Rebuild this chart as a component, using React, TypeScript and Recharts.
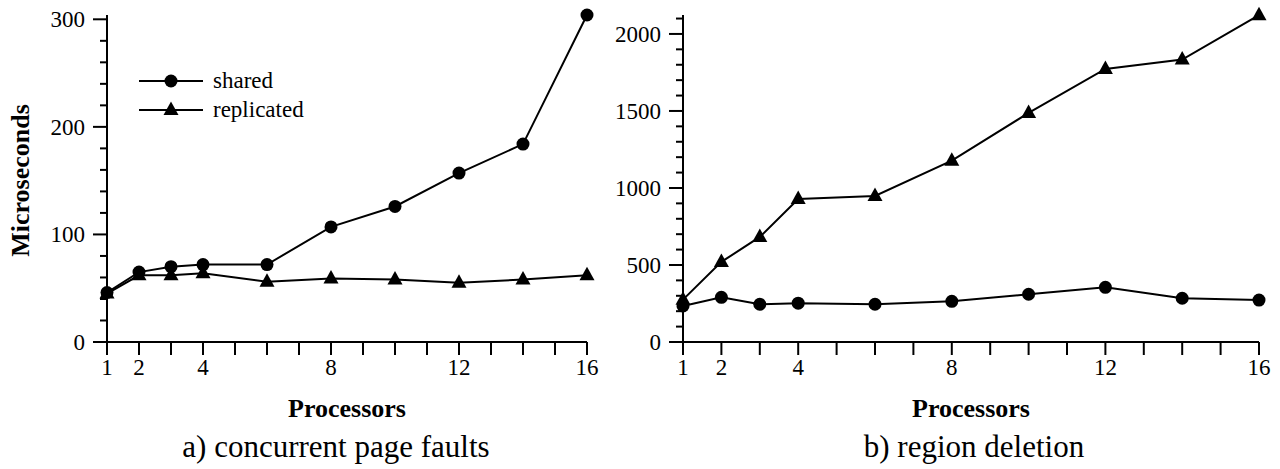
import React from 'react';
import { LineChart, Line, XAxis, YAxis, Legend } from 'recharts';

const FONT = "'Liberation Serif', 'Times New Roman', serif";

// processor counts measured
const processors = [1, 2, 3, 4, 6, 8, 10, 12, 14, 16];

// a) concurrent page faults (microseconds)
const faultShared = [46, 65, 70, 72, 72, 107, 126, 157, 184, 304];
const faultReplicated = [45, 62, 62, 64, 56, 59, 58, 55, 58, 62];

// b) region deletion (microseconds)
const deleteShared = [234, 290, 245, 252, 245, 264, 310, 355, 284, 272];
const deleteReplicated = [275, 520, 682, 928, 948, 1177, 1487, 1773, 1834, 2122];

const seriesOrder = ['shared', 'replicated'];

const xTicks = [1, 2, 3, 4, 5, 6, 7, 8, 9, 10, 11, 12, 13, 14, 15, 16];
const xLabels = [1, 2, 4, 8, 12, 16];

const faultTicks = [0, 20, 40, 60, 80, 100, 120, 140, 160, 180, 200, 220, 240, 260, 280, 300];
const faultLabels = [0, 100, 200, 300];

const deleteTicks = [
  0, 100, 200, 300, 400, 500, 600, 700, 800, 900, 1000,
  1100, 1200, 1300, 1400, 1500, 1600, 1700, 1800, 1900, 2000, 2100,
];
const deleteLabels = [0, 500, 1000, 1500, 2000];

const faultData = processors.map((p, i) => ({
  p,
  shared: faultShared[i],
  replicated: faultReplicated[i],
}));

const deleteData = processors.map((p, i) => ({
  p,
  shared: deleteShared[i],
  replicated: deleteReplicated[i],
}));

const CircleDot = (props: any) => {
  const { cx, cy, index } = props;
  return <circle key={`c-${index}`} cx={cx} cy={cy} r={6.5} fill="#000" />;
};

const TriangleDot = (props: any) => {
  const { cx, cy, index } = props;
  return (
    <path
      key={`t-${index}`}
      d={`M${cx},${cy - 8.5} L${cx - 7.5},${cy + 5} L${cx + 7.5},${cy + 5} Z`}
      fill="#000"
    />
  );
};

const makeYTick = (labels: number[]) => (props: any) => {
  const { x, y, payload } = props;
  const major = labels.includes(payload.value);
  return (
    <g>
      <line x1={x} x2={x - (major ? 14 : 7)} y1={y} y2={y} stroke="#000" strokeWidth={2} />
      {major && (
        <text x={x - 22} y={y} dy="0.35em" textAnchor="end" fontFamily={FONT} fontSize={23} fill="#000">
          {payload.value}
        </text>
      )}
    </g>
  );
};

const XTick = (props: any) => {
  const { x, y, payload } = props;
  const show = xLabels.includes(payload.value);
  return (
    <g>
      <line x1={x} x2={x} y1={y} y2={y + 13} stroke="#000" strokeWidth={2} />
      {show && (
        <text x={x} y={y + 33} textAnchor="middle" fontFamily={FONT} fontSize={23} fill="#000">
          {payload.value}
        </text>
      )}
    </g>
  );
};

const makeXLabel = (caption: string, shift: number) => (props: any) => {
  const { x, y, width } = props.viewBox;
  const cx = x + width / 2;
  return (
    <g fontFamily={FONT} fill="#000">
      <text x={cx} y={y + 75} textAnchor="middle" fontSize={26} fontWeight="bold">
        Processors
      </text>
      <text x={cx + shift} y={y + 115} textAnchor="middle" fontSize={31}>
        {caption}
      </text>
    </g>
  );
};

const YLabel = (props: any) => {
  const { x, y, height } = props.viewBox;
  const tx = x + 20;
  const ty = y + height / 2 + 2;
  return (
    <text
      x={tx}
      y={ty}
      dy="0.35em"
      textAnchor="middle"
      transform={`rotate(-90, ${tx}, ${ty})`}
      fontFamily={FONT}
      fontSize={26}
      fontWeight="bold"
      fill="#000"
    >
      Microseconds
    </text>
  );
};

const renderLegend = (props: any) => {
  const payload = [...(props.payload || [])].sort(
    (a: any, b: any) => seriesOrder.indexOf(a.dataKey) - seriesOrder.indexOf(b.dataKey),
  );
  return (
    <div style={{ fontFamily: FONT, fontSize: 23, color: '#000' }}>
      {payload.map((entry: any) => (
        <div key={entry.value} style={{ display: 'flex', alignItems: 'center', height: 29 }}>
          <svg width={64} height={18}>
            <line x1={0} x2={64} y1={9} y2={9} stroke="#000" strokeWidth={2} />
            {entry.dataKey === 'shared' ? (
              <circle cx={32} cy={9} r={6.5} fill="#000" />
            ) : (
              <path d="M32,0.5 L24.5,14 L39.5,14 Z" fill="#000" />
            )}
          </svg>
          <span style={{ marginLeft: 10 }}>{entry.value}</span>
        </div>
      ))}
    </div>
  );
};

const axisLine = { stroke: '#000', strokeWidth: 2 };

export default function App() {
  return (
    <div style={{ position: 'absolute', left: 0, top: 0, width: 1280, height: 469, background: '#fff' }}>
      <div style={{ position: 'absolute', left: 0, top: 0 }}>
        <LineChart width={600} height={469} data={faultData} margin={{ top: 15, right: 13, bottom: 0, left: 0 }}>
          <XAxis
            dataKey="p"
            type="number"
            domain={[1, 16]}
            ticks={xTicks}
            interval={0}
            height={127}
            tickSize={0}
            tickMargin={0}
            tickLine={false}
            axisLine={axisLine}
            tick={XTick}
            label={{ content: makeXLabel('a) concurrent page faults', -11) }}
          />
          <YAxis
            type="number"
            domain={[0, 304]}
            ticks={faultTicks}
            interval={0}
            width={107}
            tickSize={0}
            tickMargin={0}
            tickLine={false}
            axisLine={axisLine}
            tick={makeYTick(faultLabels)}
            label={{ content: YLabel }}
          />
          <Legend
            layout="vertical"
            align="center"
            verticalAlign="middle"
            wrapperStyle={{ position: 'absolute', left: 139, top: 66, width: 'auto' }}
            content={renderLegend}
          />
          <Line
            name="shared"
            dataKey="shared"
            stroke="#000"
            strokeWidth={2}
            dot={CircleDot}
            isAnimationActive={false}
          />
          <Line
            name="replicated"
            dataKey="replicated"
            stroke="#000"
            strokeWidth={2}
            dot={TriangleDot}
            isAnimationActive={false}
          />
        </LineChart>
      </div>
      <div style={{ position: 'absolute', left: 600, top: 0 }}>
        <LineChart width={680} height={469} data={deleteData} margin={{ top: 15, right: 21, bottom: 0, left: 0 }}>
          <XAxis
            dataKey="p"
            type="number"
            domain={[1, 16]}
            ticks={xTicks}
            interval={0}
            height={127}
            tickSize={0}
            tickMargin={0}
            tickLine={false}
            axisLine={axisLine}
            tick={XTick}
            label={{ content: makeXLabel('b) region deletion', 3) }}
          />
          <YAxis
            type="number"
            domain={[0, 2123]}
            ticks={deleteTicks}
            interval={0}
            width={83}
            tickSize={0}
            tickMargin={0}
            tickLine={false}
            axisLine={axisLine}
            tick={makeYTick(deleteLabels)}
          />
          <Line
            name="shared"
            dataKey="shared"
            stroke="#000"
            strokeWidth={2}
            dot={CircleDot}
            isAnimationActive={false}
          />
          <Line
            name="replicated"
            dataKey="replicated"
            stroke="#000"
            strokeWidth={2}
            dot={TriangleDot}
            isAnimationActive={false}
          />
        </LineChart>
      </div>
    </div>
  );
}
